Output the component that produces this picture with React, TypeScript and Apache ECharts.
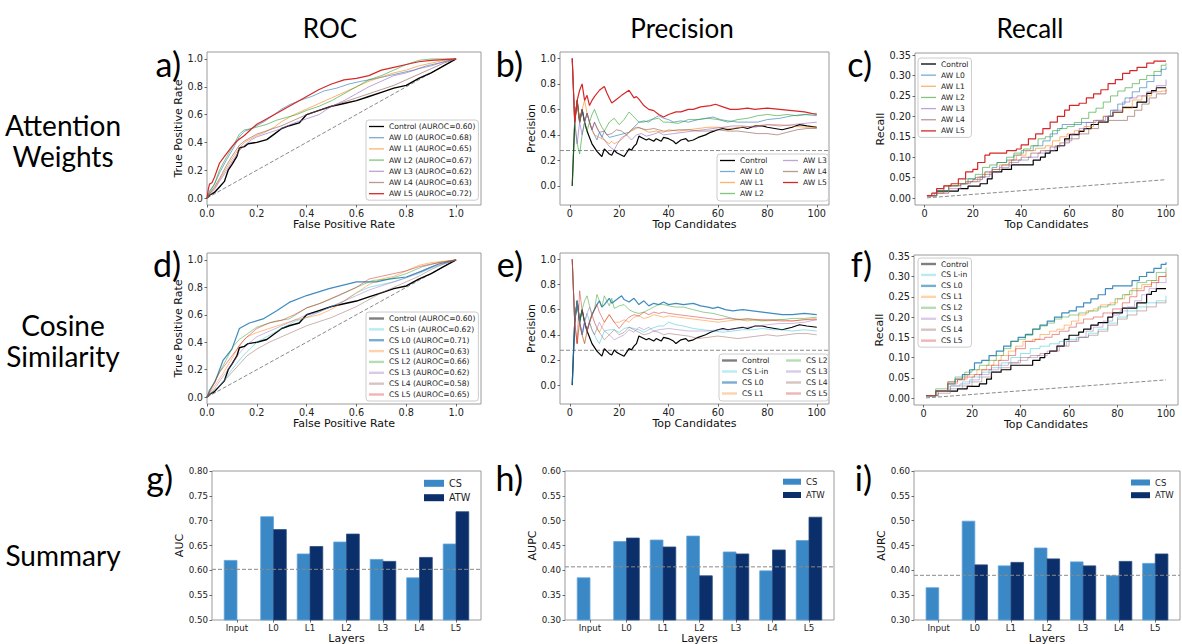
import React, { useEffect, useRef } from "react";
import * as echarts from "echarts";

type P = [number, number];

// ---------- tick values ----------
const rocTicks = [0, 0.2, 0.4, 0.6, 0.8, 1.0];
const candTicks = [0, 20, 40, 60, 80, 100];
const precTicks = [0, 0.2, 0.4, 0.6, 0.8, 1.0];
const recallTicks = [0, 0.05, 0.1, 0.15, 0.2, 0.25, 0.3, 0.35];
const aucTicks = [0.5, 0.55, 0.6, 0.65, 0.7, 0.75, 0.8];
const aupcTicks = [0.3, 0.35, 0.4, 0.45, 0.5, 0.55, 0.6];
const layerTicks = [0, 1, 2, 3, 4, 5, 6];

// ---------- text ----------
const columnTitles = ["ROC", "Precision", "Recall"];
const rowTitles = ["Attention\nWeights", "Cosine\nSimilarity", "Summary"];
const panelLetters = ["a)", "b)", "c)", "d)", "e)", "f)", "g)", "h)", "i)"];
const layers = ["Input", "L0", "L1", "L2", "L3", "L4", "L5"];
const awNames = ["AW L0", "AW L1", "AW L2", "AW L3", "AW L4", "AW L5"];
const csNames = ["CS L-in", "CS L0", "CS L1", "CS L2", "CS L3", "CS L4", "CS L5"];
const controlAuroc = "0.60";
const awAuroc = ["0.68", "0.65", "0.67", "0.62", "0.63", "0.72"];
const csAuroc = ["0.62", "0.71", "0.63", "0.66", "0.62", "0.58", "0.65"];

// ---------- ROC curves ----------
const rocControl: P[] = [[0,0],[0.01,0.02],[0.03,0.04],[0.05,0.08],[0.07,0.12],[0.085,0.2],[0.1,0.24],[0.12,0.3],[0.13,0.36],[0.15,0.37],[0.165,0.39],[0.2,0.4],[0.24,0.42],[0.27,0.46],[0.3,0.5],[0.33,0.52],[0.37,0.54],[0.4,0.6],[0.45,0.63],[0.5,0.66],[0.55,0.68],[0.6,0.7],[0.65,0.73],[0.7,0.76],[0.75,0.79],[0.8,0.81],[0.85,0.86],[0.9,0.9],[0.95,0.95],[1,1]];
const rocAwL0: P[] = [[0,0],[0.01,0.05],[0.03,0.1],[0.05,0.18],[0.08,0.28],[0.1,0.34],[0.13,0.44],[0.15,0.48],[0.18,0.5],[0.2,0.52],[0.23,0.55],[0.27,0.6],[0.3,0.64],[0.33,0.67],[0.37,0.7],[0.42,0.73],[0.47,0.77],[0.52,0.79],[0.57,0.82],[0.62,0.84],[0.68,0.86],[0.73,0.88],[0.78,0.9],[0.83,0.92],[0.88,0.95],[0.93,0.97],[1,1]];
const rocAwL1: P[] = [[0,0],[0.01,0.03],[0.03,0.07],[0.05,0.13],[0.08,0.22],[0.1,0.28],[0.13,0.36],[0.15,0.4],[0.18,0.43],[0.2,0.45],[0.23,0.47],[0.27,0.51],[0.3,0.55],[0.35,0.6],[0.4,0.64],[0.45,0.68],[0.5,0.72],[0.55,0.76],[0.6,0.8],[0.65,0.84],[0.7,0.87],[0.75,0.9],[0.8,0.92],[0.85,0.95],[0.9,0.97],[0.95,0.99],[1,1]];
const rocAwL2: P[] = [[0,0],[0.01,0.04],[0.03,0.1],[0.05,0.2],[0.08,0.3],[0.1,0.36],[0.13,0.46],[0.15,0.49],[0.18,0.5],[0.2,0.51],[0.24,0.53],[0.28,0.56],[0.32,0.58],[0.36,0.6],[0.4,0.63],[0.45,0.66],[0.5,0.7],[0.55,0.75],[0.6,0.8],[0.65,0.85],[0.7,0.88],[0.75,0.92],[0.8,0.96],[0.85,0.99],[0.9,1],[1,1]];
const rocAwL3: P[] = [[0,0],[0.01,0.02],[0.03,0.06],[0.05,0.12],[0.08,0.2],[0.1,0.26],[0.13,0.34],[0.15,0.38],[0.18,0.42],[0.2,0.44],[0.25,0.47],[0.3,0.5],[0.35,0.54],[0.4,0.57],[0.45,0.6],[0.5,0.66],[0.55,0.7],[0.6,0.75],[0.65,0.8],[0.7,0.84],[0.75,0.88],[0.8,0.9],[0.85,0.93],[0.9,0.95],[0.95,0.98],[1,1]];
const rocAwL4: P[] = [[0,0],[0.01,0.03],[0.03,0.08],[0.05,0.14],[0.08,0.24],[0.1,0.3],[0.13,0.38],[0.15,0.41],[0.18,0.44],[0.2,0.46],[0.25,0.49],[0.3,0.52],[0.35,0.56],[0.4,0.6],[0.45,0.63],[0.5,0.66],[0.55,0.69],[0.6,0.72],[0.65,0.75],[0.7,0.78],[0.75,0.81],[0.8,0.85],[0.85,0.89],[0.9,0.93],[0.95,0.97],[1,1]];
const rocAwL5: P[] = [[0,0],[0.005,0.06],[0.01,0.1],[0.02,0.11],[0.03,0.15],[0.05,0.25],[0.07,0.3],[0.1,0.37],[0.12,0.41],[0.15,0.45],[0.18,0.5],[0.2,0.53],[0.23,0.56],[0.26,0.59],[0.3,0.63],[0.33,0.66],[0.37,0.7],[0.4,0.73],[0.45,0.78],[0.5,0.82],[0.55,0.85],[0.6,0.86],[0.65,0.88],[0.7,0.92],[0.75,0.94],[0.8,0.96],[0.85,0.98],[0.9,0.99],[0.95,0.995],[1,1]];

const rocCsLin: P[] = [[0,0],[0.03,0.05],[0.06,0.1],[0.1,0.2],[0.13,0.27],[0.16,0.33],[0.2,0.4],[0.25,0.45],[0.3,0.5],[0.35,0.55],[0.4,0.58],[0.45,0.62],[0.5,0.66],[0.55,0.7],[0.6,0.76],[0.65,0.8],[0.7,0.82],[0.75,0.84],[0.8,0.87],[0.85,0.9],[0.9,0.94],[0.95,0.97],[1,1]];
const rocCsL0: P[] = [[0,0],[0.01,0.05],[0.032,0.11],[0.065,0.27],[0.1,0.35],[0.13,0.5],[0.17,0.54],[0.225,0.57],[0.28,0.63],[0.33,0.69],[0.4,0.74],[0.49,0.79],[0.6,0.84],[0.68,0.84],[0.73,0.86],[0.8,0.875],[0.865,0.92],[0.93,0.97],[1,1]];
const rocCsL1: P[] = [[0,0],[0.03,0.08],[0.06,0.16],[0.1,0.28],[0.13,0.38],[0.16,0.44],[0.2,0.47],[0.25,0.5],[0.3,0.53],[0.35,0.56],[0.4,0.58],[0.45,0.6],[0.5,0.64],[0.55,0.7],[0.6,0.76],[0.65,0.82],[0.7,0.86],[0.75,0.88],[0.8,0.92],[0.85,0.96],[0.9,0.98],[1,1]];
const rocCsL2: P[] = [[0,0],[0.02,0.08],[0.065,0.23],[0.105,0.37],[0.13,0.42],[0.2,0.51],[0.265,0.55],[0.33,0.57],[0.4,0.65],[0.465,0.69],[0.53,0.74],[0.6,0.8],[0.665,0.85],[0.73,0.86],[0.8,0.9],[0.865,0.95],[0.93,0.98],[1,1]];
const rocCsL3: P[] = [[0,0],[0.03,0.06],[0.06,0.14],[0.1,0.24],[0.13,0.32],[0.16,0.38],[0.2,0.44],[0.25,0.48],[0.3,0.52],[0.35,0.56],[0.4,0.6],[0.45,0.62],[0.5,0.66],[0.55,0.7],[0.6,0.74],[0.65,0.78],[0.7,0.81],[0.75,0.84],[0.8,0.87],[0.85,0.91],[0.9,0.95],[1,1]];
const rocCsL4: P[] = [[0,0],[0.03,0.05],[0.06,0.1],[0.1,0.18],[0.13,0.24],[0.16,0.3],[0.2,0.35],[0.25,0.4],[0.3,0.44],[0.35,0.48],[0.4,0.52],[0.45,0.55],[0.5,0.58],[0.55,0.62],[0.6,0.66],[0.65,0.71],[0.7,0.76],[0.75,0.8],[0.8,0.84],[0.85,0.88],[0.9,0.93],[0.95,0.97],[1,1]];
const rocCsL5: P[] = [[0,0],[0.02,0.07],[0.05,0.18],[0.1,0.3],[0.15,0.42],[0.2,0.5],[0.25,0.54],[0.3,0.56],[0.35,0.6],[0.4,0.65],[0.45,0.68],[0.5,0.72],[0.55,0.76],[0.6,0.8],[0.65,0.86],[0.7,0.88],[0.75,0.9],[0.8,0.92],[0.85,0.95],[0.9,0.97],[1,1]];
const rocChance: P[] = [[0, 0], [1, 1]];

// ---------- precision curves ----------
const precControl: P[] = [[1,0],[2,0.5],[3,0.67],[4,0.5],[5,0.6],[6,0.5],[7,0.43],[8,0.38],[9,0.33],[10,0.3],[11,0.27],[12,0.25],[13,0.23],[14,0.29],[15,0.27],[16,0.25],[17,0.24],[18,0.28],[19,0.26],[20,0.25],[21,0.24],[22,0.23],[23,0.26],[24,0.29],[25,0.28],[26,0.31],[27,0.33],[28,0.39],[29,0.38],[30,0.37],[31,0.36],[32,0.37],[33,0.36],[34,0.35],[35,0.37],[36,0.36],[37,0.35],[38,0.38],[40,0.37],[42,0.35],[43,0.33],[45,0.36],[47,0.37],[48,0.35],[50,0.36],[52,0.38],[55,0.4],[57,0.42],[60,0.44],[62,0.45],[64,0.44],[67,0.45],[70,0.46],[72,0.45],[75,0.47],[78,0.47],[80,0.46],[83,0.45],[86,0.44],[90,0.46],[93,0.48],[96,0.47],[100,0.46]];
const precAwL0: P[] = [[1,1],[2,0.5],[3,0.67],[4,0.5],[5,0.6],[6,0.5],[7,0.57],[8,0.5],[9,0.44],[10,0.4],[11,0.36],[12,0.42],[13,0.38],[14,0.43],[16,0.38],[18,0.39],[20,0.4],[22,0.41],[24,0.42],[26,0.46],[28,0.5],[30,0.51],[32,0.5],[34,0.53],[36,0.55],[38,0.53],[40,0.52],[42,0.5],[45,0.51],[48,0.5],[52,0.52],[55,0.53],[58,0.54],[61,0.52],[64,0.51],[68,0.5],[72,0.5],[76,0.5],[80,0.52],[85,0.53],[90,0.55],[95,0.56],[100,0.55]];
const precAwL1: P[] = [[1,1],[2,0.5],[3,0.67],[4,0.5],[5,0.6],[6,0.67],[7,0.57],[8,0.5],[9,0.44],[10,0.4],[12,0.38],[14,0.36],[16,0.33],[17,0.35],[18,0.33],[20,0.35],[22,0.38],[24,0.42],[26,0.44],[28,0.46],[30,0.44],[32,0.42],[35,0.43],[38,0.42],[40,0.44],[44,0.43],[48,0.44],[52,0.45],[56,0.46],[60,0.46],[65,0.45],[70,0.46],[75,0.47],[80,0.48],[85,0.48],[90,0.47],[95,0.46],[100,0.46]];
const precAwL2: P[] = [[1,0],[2,0.5],[3,0.33],[4,0.25],[5,0.4],[6,0.5],[7,0.43],[8,0.5],[9,0.56],[10,0.6],[11,0.55],[12,0.5],[13,0.46],[14,0.43],[16,0.5],[18,0.53],[20,0.48],[22,0.52],[24,0.58],[26,0.54],[28,0.5],[30,0.5],[33,0.52],[36,0.53],[38,0.5],[40,0.5],[44,0.49],[48,0.52],[52,0.52],[56,0.53],[60,0.52],[64,0.5],[68,0.52],[72,0.53],[76,0.55],[80,0.56],[84,0.55],[88,0.56],[92,0.55],[96,0.56],[100,0.57]];
const precAwL3: P[] = [[1,1],[2,0.5],[3,0.33],[4,0.5],[5,0.4],[6,0.5],[7,0.57],[8,0.5],[9,0.44],[10,0.5],[11,0.45],[12,0.42],[14,0.36],[16,0.31],[18,0.28],[19,0.32],[21,0.38],[23,0.4],[25,0.36],[27,0.4],[29,0.41],[31,0.39],[33,0.4],[36,0.42],[38,0.4],[42,0.41],[46,0.42],[50,0.43],[54,0.44],[58,0.45],[62,0.46],[66,0.47],[70,0.47],[75,0.46],[80,0.48],[85,0.47],[90,0.48],[95,0.49],[100,0.5]];
const precAwL4: P[] = [[1,1],[2,0.5],[3,0.67],[4,0.5],[5,0.6],[6,0.5],[7,0.57],[8,0.5],[9,0.44],[10,0.5],[12,0.42],[14,0.43],[15,0.4],[17,0.41],[19,0.44],[21,0.43],[23,0.4],[25,0.44],[27,0.46],[29,0.45],[31,0.44],[34,0.45],[36,0.44],[38,0.43],[40,0.43],[44,0.44],[48,0.44],[52,0.43],[56,0.43],[60,0.44],[64,0.43],[68,0.43],[72,0.42],[76,0.41],[80,0.41],[84,0.4],[88,0.42],[92,0.44],[96,0.45],[100,0.45]];
const precAwL5: P[] = [[1,1],[2,0.5],[3,0.67],[4,0.75],[5,0.8],[6,0.67],[7,0.71],[8,0.63],[9,0.67],[10,0.7],[12,0.75],[14,0.78],[15,0.73],[16,0.69],[17,0.65],[19,0.68],[21,0.71],[24,0.75],[25,0.72],[26,0.69],[27,0.7],[28,0.68],[30,0.63],[32,0.6],[34,0.59],[36,0.56],[38,0.54],[40,0.56],[43,0.58],[45,0.58],[48,0.6],[50,0.6],[53,0.62],[57,0.63],[59,0.64],[62,0.62],[65,0.6],[68,0.6],[72,0.61],[75,0.6],[80,0.61],[85,0.6],[90,0.59],[95,0.58],[100,0.56]];

const precCsLin: P[] = [[1,1],[2,0.5],[3,0.67],[4,0.5],[5,0.6],[6,0.5],[7,0.57],[8,0.5],[9,0.44],[10,0.4],[11,0.36],[12,0.33],[13,0.38],[14,0.43],[16,0.44],[18,0.44],[20,0.42],[22,0.45],[24,0.46],[26,0.45],[28,0.44],[30,0.42],[33,0.45],[36,0.47],[38,0.47],[40,0.5],[43,0.48],[46,0.47],[50,0.45],[54,0.44],[58,0.43],[62,0.42],[66,0.43],[70,0.44],[74,0.44],[78,0.45],[82,0.44],[86,0.44],[90,0.43],[95,0.44],[100,0.43]];
const precCsL0: P[] = [[1,0],[2,0.5],[3,0.67],[4,0.5],[5,0.4],[6,0.5],[7,0.43],[8,0.5],[9,0.56],[10,0.6],[11,0.64],[12,0.67],[13,0.62],[14,0.64],[16,0.69],[17,0.65],[19,0.68],[21,0.71],[22,0.68],[24,0.66],[26,0.69],[28,0.64],[30,0.67],[32,0.63],[34,0.65],[36,0.64],[38,0.66],[40,0.64],[43,0.65],[46,0.64],[50,0.65],[53,0.63],[56,0.62],[58,0.61],[60,0.62],[63,0.6],[66,0.59],[70,0.6],[74,0.59],[78,0.58],[82,0.57],[86,0.56],[90,0.56],[95,0.57],[100,0.56]];
const precCsL1: P[] = [[1,1],[2,0.5],[3,0.33],[4,0.5],[5,0.4],[6,0.33],[7,0.43],[8,0.5],[9,0.56],[10,0.5],[12,0.42],[14,0.5],[16,0.56],[18,0.5],[20,0.5],[22,0.52],[24,0.5],[26,0.54],[28,0.55],[30,0.53],[32,0.54],[34,0.56],[36,0.55],[38,0.54],[40,0.55],[44,0.54],[48,0.53],[52,0.52],[56,0.51],[60,0.5],[64,0.51],[68,0.52],[72,0.51],[76,0.52],[80,0.51],[85,0.52],[90,0.51],[95,0.52],[100,0.53]];
const precCsL2: P[] = [[1,1],[2,0.5],[3,0.67],[4,0.5],[5,0.6],[6,0.67],[7,0.71],[8,0.63],[9,0.56],[10,0.6],[11,0.72],[12,0.67],[13,0.62],[14,0.71],[15,0.67],[16,0.63],[17,0.69],[18,0.61],[20,0.63],[22,0.64],[24,0.6],[26,0.58],[28,0.57],[30,0.58],[32,0.6],[34,0.62],[36,0.64],[38,0.64],[40,0.63],[43,0.62],[46,0.62],[50,0.6],[54,0.58],[58,0.57],[62,0.55],[66,0.53],[70,0.52],[74,0.52],[78,0.51],[82,0.52],[86,0.52],[90,0.53],[95,0.53],[100,0.54]];
const precCsL3: P[] = [[1,1],[2,0.5],[3,0.67],[4,0.5],[5,0.4],[6,0.5],[7,0.57],[8,0.62],[9,0.56],[10,0.5],[11,0.45],[12,0.5],[13,0.46],[14,0.43],[16,0.4],[18,0.36],[20,0.38],[22,0.4],[24,0.44],[26,0.42],[28,0.46],[30,0.44],[32,0.46],[34,0.43],[36,0.44],[40,0.45],[44,0.44],[48,0.43],[52,0.43],[56,0.43],[60,0.44],[64,0.44],[68,0.45],[72,0.46],[76,0.47],[80,0.48],[85,0.49],[90,0.49],[95,0.5],[100,0.52]];
const precCsL4: P[] = [[1,1],[2,0.5],[3,0.33],[4,0.5],[5,0.4],[6,0.33],[7,0.43],[8,0.5],[9,0.44],[10,0.4],[11,0.45],[12,0.42],[14,0.36],[16,0.4],[18,0.44],[20,0.4],[22,0.42],[24,0.46],[26,0.44],[28,0.42],[30,0.4],[32,0.41],[34,0.43],[36,0.42],[38,0.4],[40,0.41],[44,0.4],[48,0.39],[52,0.37],[56,0.38],[60,0.39],[64,0.38],[68,0.37],[72,0.38],[76,0.39],[80,0.4],[84,0.39],[88,0.4],[92,0.41],[96,0.41],[100,0.4]];
const precCsL5: P[] = [[1,1],[2,0.5],[3,0.33],[4,0.75],[5,0.6],[6,0.5],[7,0.43],[8,0.5],[9,0.56],[10,0.6],[11,0.64],[12,0.58],[13,0.54],[14,0.5],[16,0.56],[18,0.5],[20,0.45],[22,0.5],[24,0.54],[26,0.56],[28,0.55],[30,0.58],[32,0.56],[34,0.58],[36,0.57],[38,0.58],[40,0.57],[44,0.56],[48,0.55],[52,0.54],[56,0.53],[60,0.52],[64,0.53],[68,0.52],[72,0.53],[76,0.52],[80,0.52],[85,0.51],[90,0.51],[95,0.52],[100,0.52]];
const precBaseline = 0.277;

// ---------- recall curves ----------
const recControl: P[] = [[1,0.006],[5,0.017],[14,0.023],[18,0.029],[23,0.035],[26,0.047],[28,0.064],[32,0.07],[36,0.081],[45,0.093],[48,0.1],[50,0.11],[52,0.116],[55,0.128],[58,0.145],[60,0.155],[64,0.163],[66,0.17],[69,0.18],[72,0.186],[76,0.2],[78,0.21],[82,0.222],[88,0.235],[92,0.256],[94,0.263],[96,0.27],[100,0.27]];
const recAwL0: P[] = [[1,0.006],[5,0.017],[10,0.03],[15,0.035],[18,0.047],[21,0.05],[25,0.064],[28,0.075],[30,0.087],[34,0.093],[37,0.105],[40,0.116],[45,0.128],[49,0.14],[52,0.157],[55,0.17],[57,0.18],[65,0.185],[70,0.19],[74,0.2],[77,0.215],[80,0.23],[83,0.245],[86,0.26],[89,0.27],[92,0.285],[95,0.3],[98,0.315],[100,0.322]];
const recAwL1: P[] = [[1,0.006],[5,0.012],[10,0.03],[15,0.035],[18,0.04],[22,0.052],[25,0.064],[28,0.07],[31,0.081],[35,0.093],[38,0.105],[42,0.116],[46,0.122],[50,0.128],[53,0.14],[56,0.15],[59,0.157],[62,0.165],[66,0.175],[70,0.19],[74,0.2],[78,0.21],[82,0.22],[86,0.24],[90,0.25],[94,0.26],[98,0.262],[100,0.27]];
const recAwL2: P[] = [[1,0.006],[5,0.017],[10,0.03],[14,0.035],[17,0.047],[21,0.058],[24,0.075],[27,0.081],[30,0.087],[34,0.1],[37,0.11],[41,0.12],[44,0.128],[47,0.145],[50,0.15],[53,0.165],[56,0.17],[59,0.175],[62,0.185],[65,0.195],[68,0.21],[71,0.22],[74,0.235],[77,0.25],[80,0.262],[83,0.27],[86,0.28],[89,0.29],[92,0.3],[95,0.31],[98,0.325],[100,0.33]];
const recAwL3: P[] = [[1,0.006],[5,0.012],[10,0.023],[15,0.035],[19,0.04],[23,0.052],[27,0.064],[31,0.075],[35,0.087],[39,0.093],[43,0.1],[47,0.11],[50,0.116],[54,0.128],[58,0.14],[61,0.157],[64,0.17],[67,0.185],[71,0.19],[75,0.2],[78,0.215],[82,0.235],[85,0.245],[88,0.25],[92,0.26],[96,0.275],[100,0.29]];
const recAwL4: P[] = [[1,0.006],[4,0.012],[8,0.03],[14,0.035],[17,0.04],[20,0.045],[24,0.058],[28,0.07],[32,0.081],[36,0.093],[40,0.1],[44,0.11],[48,0.116],[52,0.125],[56,0.135],[60,0.145],[64,0.157],[68,0.17],[72,0.185],[76,0.19],[84,0.2],[87,0.215],[90,0.23],[93,0.245],[96,0.255],[100,0.265]];
const recAwL5: P[] = [[1,0.006],[3,0.012],[5,0.023],[8,0.03],[11,0.035],[14,0.047],[17,0.064],[20,0.07],[22,0.087],[25,0.105],[27,0.11],[34,0.116],[38,0.12],[40,0.13],[43,0.145],[46,0.157],[49,0.17],[52,0.186],[55,0.2],[58,0.215],[60,0.227],[64,0.232],[67,0.245],[70,0.255],[73,0.265],[76,0.28],[79,0.29],[82,0.305],[85,0.312],[88,0.32],[92,0.33],[95,0.335],[100,0.335]];

const recCsLin: P[] = [[1,0.006],[6,0.017],[11,0.03],[16,0.04],[20,0.052],[24,0.064],[28,0.075],[32,0.087],[36,0.1],[40,0.11],[44,0.122],[48,0.128],[52,0.134],[56,0.14],[60,0.145],[64,0.15],[68,0.16],[72,0.17],[76,0.185],[80,0.2],[84,0.215],[88,0.225],[92,0.235],[96,0.24],[100,0.253]];
const recCsL0: P[] = [[1,0.006],[5,0.017],[10,0.035],[13,0.047],[16,0.058],[19,0.07],[21,0.087],[24,0.093],[27,0.105],[30,0.116],[33,0.128],[36,0.14],[39,0.15],[42,0.157],[45,0.17],[48,0.18],[51,0.19],[54,0.2],[57,0.21],[60,0.215],[63,0.225],[66,0.235],[69,0.245],[72,0.255],[75,0.27],[78,0.277],[86,0.29],[89,0.3],[92,0.31],[95,0.32],[98,0.33],[100,0.335]];
const recCsL1: P[] = [[1,0.006],[5,0.017],[10,0.035],[14,0.047],[18,0.058],[22,0.07],[26,0.081],[29,0.093],[32,0.105],[35,0.116],[38,0.128],[41,0.14],[45,0.145],[48,0.157],[52,0.165],[55,0.17],[58,0.18],[61,0.19],[64,0.205],[67,0.215],[70,0.22],[73,0.23],[77,0.235],[80,0.245],[83,0.255],[86,0.27],[90,0.28],[94,0.29],[97,0.3],[100,0.305]];
const recCsL2: P[] = [[1,0.006],[5,0.023],[10,0.04],[13,0.052],[17,0.064],[20,0.07],[23,0.081],[27,0.093],[30,0.105],[33,0.122],[36,0.14],[39,0.145],[42,0.155],[45,0.17],[48,0.178],[51,0.185],[54,0.195],[57,0.2],[60,0.205],[64,0.21],[68,0.215],[72,0.225],[76,0.23],[79,0.245],[82,0.255],[85,0.265],[88,0.285],[92,0.29],[96,0.31],[100,0.322]];
const recCsL3: P[] = [[1,0.006],[6,0.017],[11,0.03],[15,0.035],[19,0.045],[23,0.058],[27,0.07],[31,0.081],[35,0.087],[39,0.093],[43,0.1],[47,0.105],[51,0.116],[55,0.13],[59,0.14],[63,0.15],[67,0.165],[70,0.175],[74,0.19],[78,0.205],[81,0.215],[84,0.225],[87,0.24],[90,0.255],[93,0.27],[96,0.285],[100,0.3]];
const recCsL4: P[] = [[1,0.006],[6,0.012],[11,0.023],[16,0.03],[20,0.04],[24,0.052],[28,0.064],[32,0.075],[36,0.087],[40,0.1],[44,0.105],[48,0.11],[52,0.116],[56,0.128],[60,0.14],[64,0.15],[68,0.155],[72,0.165],[76,0.18],[80,0.195],[84,0.205],[88,0.215],[92,0.225],[96,0.235],[100,0.24]];
const recCsL5: P[] = [[1,0.006],[5,0.017],[10,0.04],[14,0.045],[17,0.052],[21,0.058],[24,0.07],[28,0.081],[31,0.093],[35,0.105],[38,0.122],[42,0.14],[46,0.145],[50,0.15],[53,0.157],[56,0.165],[60,0.175],[63,0.185],[66,0.195],[70,0.2],[74,0.21],[78,0.22],[82,0.235],[85,0.25],[88,0.265],[91,0.275],[94,0.285],[97,0.3],[100,0.31]];
const recChance: P[] = [[1, 0.0005], [100, 0.045]];

// ---------- summary bars ----------
const csAuc = [0.62, 0.708, 0.633, 0.657, 0.622, 0.585, 0.653];
const atwAuc = [null, 0.682, 0.648, 0.673, 0.618, 0.626, 0.718];
const aucBaseline = 0.602;
const csAupc = [0.385, 0.458, 0.461, 0.469, 0.437, 0.399, 0.46];
const atwAupc = [null, 0.465, 0.447, 0.389, 0.433, 0.441, 0.507];
const aupcBaseline = 0.407;
const csAurc = [0.365, 0.499, 0.409, 0.445, 0.417, 0.389, 0.414];
const atwAurc = [null, 0.411, 0.416, 0.423, 0.409, 0.418, 0.433];
const aurcBaseline = 0.39;

// ---------- styling ----------
const TICK_FONT = "DejaVu Sans";
const BIG_FONT = "Lato";
const C = {
  black: "#000000",
  blue: "#1f77b4",
  orange: "#ff7f0e",
  green: "#2ca02c",
  red: "#d62728",
  purple: "#9467bd",
  brown: "#8c564b",
  cyan: "#17becf",
  grey: "#8a8a8a",
  cs: "#3a88c5",
  atw: "#0a2f6a",
};
const BAR_W = 0.35;

function fmt(d: number) {
  return (v: number) => Number(v).toFixed(d);
}

function axes(
  idx: number,
  xr: [number, number],
  yr: [number, number],
  xt: number[],
  yt: number[],
  xf: (v: number) => string,
  yf: (v: number) => string,
  xName: string,
  yName: string,
  yGap: number,
  fs: number,
  xGap: number
) {
  const tick = { show: true, length: 2.5, lineStyle: { color: "#444", width: 0.8 } };
  const lab = { fontSize: fs, fontFamily: TICK_FONT, color: "#222" };
  const nameStyle = { fontSize: 11, fontFamily: TICK_FONT, color: "#111" };
  const x = {
    type: "value",
    gridIndex: idx,
    min: xr[0],
    max: xr[1],
    position: "bottom",
    axisLine: { show: false, onZero: false },
    splitLine: { show: false },
    axisTick: { ...tick, customValues: xt },
    axisLabel: { ...lab, customValues: xt, formatter: xf, margin: 3 },
    name: xName,
    nameLocation: "middle",
    nameGap: xGap,
    nameTextStyle: nameStyle,
  };
  const y = {
    type: "value",
    gridIndex: idx,
    min: yr[0],
    max: yr[1],
    position: "left",
    axisLine: { show: false, onZero: false },
    splitLine: { show: false },
    axisTick: { ...tick, customValues: yt },
    axisLabel: { ...lab, customValues: yt, formatter: yf, margin: 4 },
    name: yName,
    nameLocation: "middle",
    nameGap: yGap,
    nameTextStyle: nameStyle,
  };
  return { x, y };
}

function line(idx: number, name: string, data: P[], color: string, o: any = {}) {
  return {
    type: "line",
    name,
    xAxisIndex: idx,
    yAxisIndex: idx,
    data,
    symbol: "none",
    showSymbol: false,
    silent: true,
    step: o.step || false,
    lineStyle: {
      color,
      width: o.width ?? 1,
      opacity: o.opacity ?? 1,
      type: o.dash ? [4, 2] : "solid",
    },
    itemStyle: { color, opacity: o.opacity ?? 1 },
    emphasis: { disabled: true },
  };
}

function bars(idx: number, name: string, values: (number | null)[], side: number, color: string, edge: string, base: number) {
  const data: P[] = [];
  values.forEach((v, i) => {
    if (v != null) data.push([i, v]);
  });
  return {
    type: "custom",
    name,
    xAxisIndex: idx,
    yAxisIndex: idx,
    data,
    silent: true,
    itemStyle: { color },
    encode: { x: 0, y: 1 },
    renderItem: (_p: any, api: any) => {
      const i = api.value(0);
      const v = api.value(1);
      const x0 = side < 0 ? i - BAR_W : i;
      const x1 = side < 0 ? i : i + BAR_W;
      const tl = api.coord([x0, v]);
      const br = api.coord([x1, base]);
      return {
        type: "rect",
        shape: { x: tl[0], y: tl[1], width: br[0] - tl[0], height: br[1] - tl[1] },
        style: { fill: color, stroke: edge, lineWidth: 0.8 },
      };
    },
  };
}

function legend(names: string[], styles: { color: string; opacity: number }[], cfg: any) {
  return {
    show: true,
    orient: "vertical",
    selectedMode: false,
    left: cfg.left,
    top: cfg.top,
    padding: cfg.padding ?? [2, 3, 2, 3],
    itemGap: cfg.gap,
    itemWidth: cfg.iw,
    itemHeight: cfg.ih,
    backgroundColor: cfg.frame ? "rgba(255,255,255,0.8)" : "transparent",
    borderColor: cfg.frame ? "#cccccc" : "transparent",
    borderWidth: cfg.frame ? 1 : 0,
    borderRadius: cfg.frame ? 3 : 0,
    icon: "rect",
    z: cfg.z ?? 4,
    itemStyle: { borderWidth: 0 },
    formatter: (n: string) => n.slice(n.indexOf("|") + 1),
    textStyle: { fontSize: cfg.fs, fontFamily: TICK_FONT, color: "#222", lineHeight: cfg.lh },
    data: names.map((n, i) => ({
      name: n,
      icon: "rect",
      itemStyle: { color: styles[i].color, opacity: styles[i].opacity, borderWidth: 0 },
    })),
  };
}

function buildOption() {
  const grids = [
    { left: 207, top: 52, width: 274, height: 153 },
    { left: 560, top: 52, width: 269, height: 153 },
    { left: 915, top: 53, width: 263, height: 152 },
    { left: 207, top: 253, width: 274, height: 151 },
    { left: 560, top: 253, width: 269, height: 151 },
    { left: 914, top: 255, width: 264, height: 150 },
    { left: 212, top: 471, width: 269, height: 149 },
    { left: 565, top: 471, width: 269, height: 149 },
    { left: 914, top: 471, width: 266, height: 149 },
  ].map((g) => ({ ...g, show: true, borderColor: "#9a9a9a", borderWidth: 1, containLabel: false, outerBoundsMode: "none" }));

  const f1 = fmt(1), f0 = fmt(0), f2 = fmt(2);
  const lay = (v: number) => layers[Math.round(v)] ?? "";
  const ax = [
    axes(0, [0, 1.1], [-0.05, 1.05], rocTicks, rocTicks, f1, f1, "False Positive Rate", "True Positive Rate", 20, 9.7, 13),
    axes(1, [-3.95, 104.95], [-0.15, 1.05], candTicks, precTicks, f0, f1, "Top Candidates", "Precision", 20, 9.7, 13),
    axes(2, [-3.95, 104.95], [-0.017, 0.355], candTicks, recallTicks, f0, f2, "Top Candidates", "Recall", 26, 9.7, 13),
    axes(3, [0, 1.1], [-0.05, 1.05], rocTicks, rocTicks, f1, f1, "False Positive Rate", "True Positive Rate", 20, 9.7, 13),
    axes(4, [-3.95, 104.95], [-0.15, 1.05], candTicks, precTicks, f0, f1, "Top Candidates", "Precision", 20, 9.7, 13),
    axes(5, [-3.95, 104.95], [-0.017, 0.353], candTicks, recallTicks, f0, f2, "Top Candidates", "Recall", 24, 9.7, 13),
    axes(6, [-0.685, 6.685], [0.5, 0.8], layerTicks, aucTicks, lay, f2, "Layers", "AUC", 24, 8.7, 10),
    axes(7, [-0.685, 6.685], [0.3, 0.6], layerTicks, aupcTicks, lay, f2, "Layers", "AUPC", 24, 8.7, 10),
    axes(8, [-0.685, 6.685], [0.3, 0.6], layerTicks, aupcTicks, lay, f2, "Layers", "AURC", 25, 8.7, 10),
  ];

  const awColors = [C.blue, C.orange, C.green, C.purple, C.brown, C.red];
  const awOpac = [0.6, 0.6, 0.6, 0.6, 0.6, 1];
  const csColors = [C.cyan, C.blue, C.orange, C.green, C.purple, C.brown, C.red];
  const csOpac = [0.45, 0.85, 0.5, 0.5, 0.45, 0.45, 0.5];
  const csLegOpac = [0.3, 0.6, 0.35, 0.35, 0.35, 0.35, 0.35];

  const rocAw = [rocAwL0, rocAwL1, rocAwL2, rocAwL3, rocAwL4, rocAwL5];
  const rocCs = [rocCsLin, rocCsL0, rocCsL1, rocCsL2, rocCsL3, rocCsL4, rocCsL5];
  const precAw = [precAwL0, precAwL1, precAwL2, precAwL3, precAwL4, precAwL5];
  const precCs = [precCsLin, precCsL0, precCsL1, precCsL2, precCsL3, precCsL4, precCsL5];
  const recAw = [recAwL0, recAwL1, recAwL2, recAwL3, recAwL4, recAwL5];
  const recCs = [recCsLin, recCsL0, recCsL1, recCsL2, recCsL3, recCsL4, recCsL5];

  const series: any[] = [];
  const dashed = { color: C.grey, dash: true, width: 1 };

  // a) ROC AW
  series.push(line(0, "a|chance", rocChance, C.grey, dashed));
  const aNames = [`a|Control (AUROC=${controlAuroc})`];
  series.push(line(0, aNames[0], rocControl, C.black, { width: 1.4 }));
  rocAw.forEach((d, i) => {
    const n = `a|${awNames[i]} (AUROC=${awAuroc[i]})`;
    aNames.push(n);
    series.push(line(0, n, d, awColors[i], { opacity: awOpac[i], width: i === 5 ? 1.2 : 1 }));
  });
  // b) precision AW
  series.push(line(1, "b|base", [[-3.95, precBaseline], [104.95, precBaseline]], C.grey, dashed));
  const bNames = ["b|Control"];
  series.push(line(1, bNames[0], precControl, C.black, { width: 1.2 }));
  precAw.forEach((d, i) => {
    const n = `b|${awNames[i]}`;
    bNames.push(n);
    series.push(line(1, n, d, awColors[i], { opacity: awOpac[i], width: i === 5 ? 1.2 : 1 }));
  });
  // c) recall AW
  series.push(line(2, "c|chance", recChance, C.grey, dashed));
  const cNames = ["c|Control"];
  series.push(line(2, cNames[0], recControl, C.black, { width: 1.2, step: "end" }));
  recAw.forEach((d, i) => {
    const n = `c|${awNames[i]}`;
    cNames.push(n);
    series.push(line(2, n, d, awColors[i], { opacity: awOpac[i], width: i === 5 ? 1.2 : 1, step: "end" }));
  });
  // d) ROC CS
  series.push(line(3, "d|chance", rocChance, C.grey, dashed));
  const dNames = [`d|Control (AUROC=${controlAuroc})`];
  series.push(line(3, dNames[0], rocControl, C.black, { width: 1.4 }));
  rocCs.forEach((d, i) => {
    const n = `d|${csNames[i]} (AUROC=${csAuroc[i]})`;
    dNames.push(n);
    series.push(line(3, n, d, csColors[i], { opacity: csOpac[i], width: i === 1 ? 1.2 : 1 }));
  });
  // e) precision CS
  series.push(line(4, "e|base", [[-3.95, precBaseline], [104.95, precBaseline]], C.grey, dashed));
  const eNames = ["e|Control"];
  series.push(line(4, eNames[0], precControl, C.black, { width: 1.2 }));
  precCs.forEach((d, i) => {
    const n = `e|${csNames[i]}`;
    eNames.push(n);
    series.push(line(4, n, d, csColors[i], { opacity: csOpac[i], width: i === 1 ? 1.2 : 1 }));
  });
  // f) recall CS
  series.push(line(5, "f|chance", recChance, C.grey, dashed));
  const fNames = ["f|Control"];
  series.push(line(5, fNames[0], recControl, C.black, { width: 1.2, step: "end" }));
  recCs.forEach((d, i) => {
    const n = `f|${csNames[i]}`;
    fNames.push(n);
    series.push(line(5, n, d, csColors[i], { opacity: csOpac[i], width: i === 1 ? 1.2 : 1, step: "end" }));
  });
  // g, h, i) bars
  const barSets: [number, (number | null)[], (number | null)[], number, number, string][] = [
    [6, csAuc, atwAuc, aucBaseline, 0.5, "g"],
    [7, csAupc, atwAupc, aupcBaseline, 0.3, "h"],
    [8, csAurc, atwAurc, aurcBaseline, 0.3, "i"],
  ];
  barSets.forEach(([idx, cs, atw, bl, base, p]) => {
    series.push(bars(idx, `${p}|CS`, cs, -1, C.cs, "#62a3d8", base));
    series.push(bars(idx, `${p}|ATW`, atw, 1, C.atw, "#2a4c80", base));
    series.push(line(idx, `${p}|base`, [[-0.685, bl], [6.685, bl]], C.grey, dashed));
  });

  const awLeg = [{ color: C.black, opacity: 1 }, ...awColors.map((c, i) => ({ color: c, opacity: awOpac[i] }))];
  const csLeg = [{ color: C.black, opacity: 0.5 }, ...csColors.map((c, i) => ({ color: c, opacity: csLegOpac[i] }))];
  const lineLeg = { fs: 7.6, lh: 9, iw: 15, frame: true };

  const legends = [
    legend(aNames, awLeg, { ...lineLeg, left: 366, top: 120, gap: 2.2, ih: 1.3 }),
    legend(bNames.slice(0, 4), awLeg.slice(0, 4), { ...lineLeg, left: 717, top: 154, gap: 2, ih: 1.3, padding: [2, 61, 3, 3], z: 4 }),
    legend(bNames.slice(4), awLeg.slice(4), { ...lineLeg, frame: false, left: 783, top: 156, gap: 2, ih: 1.3, padding: 0, z: 6 }),
    legend(cNames, awLeg, { ...lineLeg, left: 918, top: 58, gap: 2.15, ih: 1.3, padding: [1.5, 3, 2, 3] }),
    legend(dNames, csLeg, { ...lineLeg, left: 366, top: 312, gap: 1.86, ih: 2.4 }),
    legend(eNames.slice(0, 4), csLeg.slice(0, 4), { ...lineLeg, left: 719, top: 354, gap: 2, ih: 2.4, padding: [2, 59, 3, 3], z: 4 }),
    legend(eNames.slice(4), csLeg.slice(4), { ...lineLeg, frame: false, left: 786, top: 356, gap: 2, ih: 2.4, padding: 0, z: 6 }),
    legend(fNames, csLeg, { ...lineLeg, left: 918, top: 258, gap: 1.95, ih: 2.4, padding: [1.5, 3, 2, 3] }),
    legend(["g|CS", "g|ATW"], [{ color: C.cs, opacity: 1 }, { color: C.atw, opacity: 1 }], { fs: 9.7, lh: 10, iw: 20, ih: 7, gap: 4.4, left: 424, top: 478.3, padding: 0, frame: false }),
    legend(["h|CS", "h|ATW"], [{ color: C.cs, opacity: 1 }, { color: C.atw, opacity: 1 }], { fs: 8.5, lh: 9, iw: 18, ih: 6, gap: 4.3, left: 783, top: 477.2, padding: 0, frame: false }),
    legend(["i|CS", "i|ATW"], [{ color: C.cs, opacity: 1 }, { color: C.atw, opacity: 1 }], { fs: 8.5, lh: 9, iw: 19, ih: 6, gap: 3.7, left: 1131, top: 478, padding: 0, frame: false }),
  ];

  const titleX = [330, 682, 1030];
  const rowY = [140, 340, 555];
  const letterX = [181, 523, 872];
  const letterY = [63, 263, 477];
  const graphic: any[] = [];
  columnTitles.forEach((t, i) =>
    graphic.push({ type: "text", x: titleX[i], y: 28, silent: true, style: { text: t, fontSize: 26, fontFamily: BIG_FONT, fill: "#000", align: "center", verticalAlign: "middle" } })
  );
  rowTitles.forEach((t, i) =>
    graphic.push({ type: "text", x: 63, y: rowY[i], silent: true, style: { text: t, fontSize: 28, lineHeight: 31, fontFamily: BIG_FONT, fill: "#000", align: "center", verticalAlign: "middle" } })
  );
  panelLetters.forEach((t, i) =>
    graphic.push({ type: "text", x: letterX[i % 3] - (i === 6 ? 8 : 0), y: letterY[Math.floor(i / 3)], silent: true, style: { text: t, fontSize: 34, fontFamily: BIG_FONT, fill: "#000", align: "right", verticalAlign: "middle" } })
  );

  return {
    animation: false,
    backgroundColor: "#ffffff",
    grid: grids,
    xAxis: ax.map((a) => a.x),
    yAxis: ax.map((a) => a.y),
    legend: legends,
    series,
    graphic,
  };
}

export default function App() {
  const ref = useRef<HTMLDivElement>(null);
  useEffect(() => {
    if (!ref.current) return;
    const chart = echarts.init(ref.current, null, { renderer: "svg" });
    chart.setOption(buildOption() as any);
    return () => chart.dispose();
  }, []);
  return <div ref={ref} style={{ position: "absolute", left: 0, top: 0, width: 1182, height: 644, background: "#fff" }} />;
}
